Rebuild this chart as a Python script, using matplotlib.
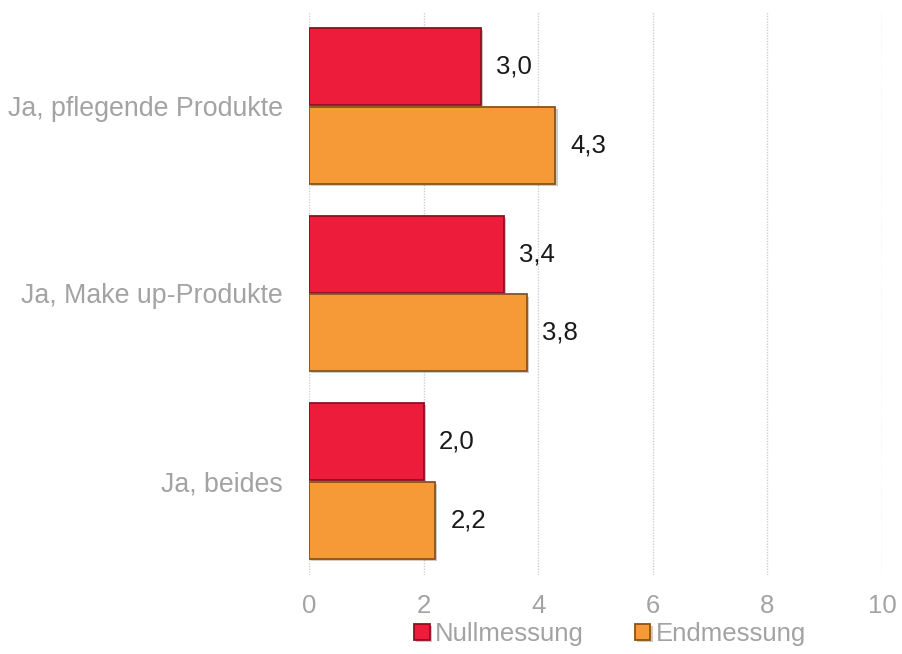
import numpy as np
import matplotlib.pyplot as plt
import matplotlib.patheffects as pe

plt.rcParams['font.family'] = ['Liberation Sans', 'DejaVu Sans']

kategorien = ["Ja, pflegende Produkte", "Ja, Make up-Produkte", "Ja, beides"]
nullmessung = [3.0, 3.4, 2.0]
endmessung = [4.3, 3.8, 2.2]
serien = ["Nullmessung", "Endmessung"]

rot = "#ED1C3A"
orange = "#F59A36"
grau = "#A3A3A3"

fig = plt.figure(figsize=(9.02, 6.54), dpi=100)
ax = fig.add_axes([0.3426, 0.1208, 0.6353, 0.8609])

y = np.arange(len(kategorien))
h = 0.41
schatten = [pe.SimplePatchShadow(offset=(1.5, -1.5), alpha=0.25), pe.Normal()]

b1 = ax.barh(y - 0.21, nullmessung, height=h, color=rot, edgecolor="#8E1022",
             linewidth=1.3, label=serien[0], zorder=3)
b2 = ax.barh(y + 0.21, endmessung, height=h, color=orange, edgecolor="#8A5418",
             linewidth=1.3, label=serien[1], zorder=3)
for bar in list(b1) + list(b2):
    bar.set_path_effects(schatten)

for bars, vals in [(b1, nullmessung), (b2, endmessung)]:
    for bar, v in zip(bars, vals):
        ax.annotate(f"{v:.1f}".replace(".", ","),
                    (bar.get_width(), bar.get_y() + bar.get_height() / 2),
                    xytext=(11, 0), textcoords="offset points",
                    va="center", ha="left", fontsize=18.5, color="#1a1a1a")

ax.set_xlim(0, 10)
ax.set_ylim(2.5, -0.5)
ax.set_xticks(np.arange(0, 11, 2))
ax.set_yticks(y)
ax.set_yticklabels(kategorien)
ax.tick_params(axis="x", length=0, pad=14, labelsize=18.5, labelcolor=grau)
ax.tick_params(axis="y", length=0, pad=19, labelsize=19.3, labelcolor=grau)

ax.grid(axis="x", color="#CFCFCF", linewidth=1, linestyle=(0, (1, 1)), zorder=0)
for s in ax.spines.values():
    s.set_visible(False)

fig.legend(handles=[b1, b2], labels=serien, loc="center",
           bbox_to_anchor=(610 / 902, 1 - 634 / 654), ncol=2, frameon=False,
           fontsize=18.5, labelcolor=grau, handlelength=0.6, handleheight=0.6,
           handletextpad=0.2, columnspacing=2.0)

fig.savefig("out.png", dpi=100)
